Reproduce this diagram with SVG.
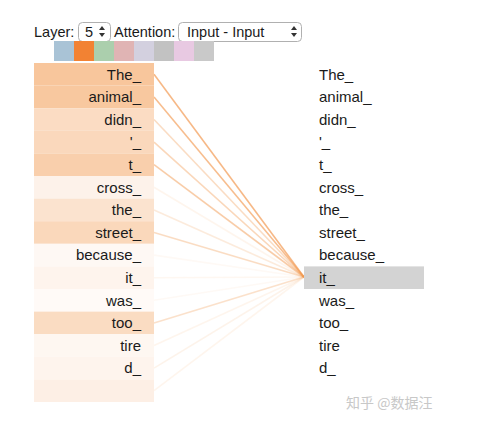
<svg xmlns="http://www.w3.org/2000/svg" width="486" height="426" viewBox="0 0 486 426">
<style>
text{font-family:"Liberation Sans",Arial,sans-serif;fill:#1a1a1a}
.hd{font-size:14.5px}
.tk{font-size:15px}
.l{text-anchor:end}
.sel{fill:#fff;stroke:#b0b0b0;stroke-width:1}
.arw{fill:#333}
.cn line{stroke:#f29a52;stroke-width:1.6}
</style>
<rect width="486" height="426" fill="#fff"/>
<g id="header">
<text class="hd" x="34" y="37">Layer:</text>
<rect class="sel" x="78.5" y="22.5" width="32" height="19" rx="4"/>
<text class="hd" x="85" y="37">5</text>
<path class="arw" d="M99,30 l3,-4 l3,4z M99,33 l3,4 l3,-4z"/>
<text class="hd" x="114" y="37">Attention:</text>
<rect class="sel" x="178.5" y="22.5" width="123" height="19" rx="4"/>
<text class="hd" x="187" y="37">Input - Input</text>
<path class="arw" d="M291,30 l3,-4 l3,4z M291,33 l3,4 l3,-4z"/>
</g>
<g id="swatches">
<rect x="54" y="41" width="20" height="20" fill="#a9c3d6"/>
<rect x="74" y="41" width="20" height="20" fill="#f28233"/>
<rect x="94" y="41" width="20" height="20" fill="#abcfad"/>
<rect x="114" y="41" width="20" height="20" fill="#e0b4b4"/>
<rect x="134" y="41" width="20" height="20" fill="#d3d0df"/>
<rect x="154" y="41" width="20" height="20" fill="#c2c2c2"/>
<rect x="174" y="41" width="20" height="20" fill="#e8c9e2"/>
<rect x="194" y="41" width="20" height="20" fill="#c9c9c9"/>
</g>
<g class="cn" id="connectors">
<line x1="154" y1="74.3" x2="304" y2="277" stroke-opacity="0.7"/>
<line x1="154" y1="96.9" x2="304" y2="277" stroke-opacity="0.65"/>
<line x1="154" y1="119.5" x2="304" y2="277" stroke-opacity="0.35"/>
<line x1="154" y1="142.1" x2="304" y2="277" stroke-opacity="0.4"/>
<line x1="154" y1="164.7" x2="304" y2="277" stroke-opacity="0.5"/>
<line x1="154" y1="187.3" x2="304" y2="277" stroke-opacity="0.1"/>
<line x1="154" y1="209.9" x2="304" y2="277" stroke-opacity="0.2"/>
<line x1="154" y1="232.5" x2="304" y2="277" stroke-opacity="0.35"/>
<line x1="154" y1="255.1" x2="304" y2="277" stroke-opacity="0.06"/>
<line x1="154" y1="277.7" x2="304" y2="277" stroke-opacity="0.08"/>
<line x1="154" y1="300.3" x2="304" y2="277" stroke-opacity="0.06"/>
<line x1="154" y1="322.9" x2="304" y2="277" stroke-opacity="0.3"/>
<line x1="154" y1="345.5" x2="304" y2="277" stroke-opacity="0.1"/>
<line x1="154" y1="368.1" x2="304" y2="277" stroke-opacity="0.12"/>
<line x1="154" y1="390.7" x2="304" y2="277" stroke-opacity="0.1"/>
</g>
<g id="left">
<g id="l0"><rect x="34" y="63" width="120" height="22.6" fill="#f8c69c"/><text class="tk l" x="141" y="79.5">The_</text></g>
<g id="l1"><rect x="34" y="85.6" width="120" height="22.6" fill="#f8c89f"/><text class="tk l" x="141" y="102.1">animal_</text></g>
<g id="l2"><rect x="34" y="108.2" width="120" height="22.6" fill="#fbdcc3"/><text class="tk l" x="141" y="124.7">didn_</text></g>
<g id="l3"><rect x="34" y="130.8" width="120" height="22.6" fill="#fad8bc"/><text class="tk l" x="141" y="147.3">'_</text></g>
<g id="l4"><rect x="34" y="153.4" width="120" height="22.6" fill="#f9cfac"/><text class="tk l" x="141" y="169.9">t_</text></g>
<g id="l5"><rect x="34" y="176" width="120" height="22.6" fill="#fdf2ea"/><text class="tk l" x="141" y="192.5">cross_</text></g>
<g id="l6"><rect x="34" y="198.6" width="120" height="22.6" fill="#fbe3cf"/><text class="tk l" x="141" y="215.1">the_</text></g>
<g id="l7"><rect x="34" y="221.2" width="120" height="22.6" fill="#fad8bb"/><text class="tk l" x="141" y="237.7">street_</text></g>
<g id="l8"><rect x="34" y="243.8" width="120" height="22.6" fill="#fef8f4"/><text class="tk l" x="141" y="260.3">because_</text></g>
<g id="l9"><rect x="34" y="266.4" width="120" height="22.6" fill="#fef4ed"/><text class="tk l" x="141" y="282.9">it_</text></g>
<g id="l10"><rect x="34" y="289" width="120" height="22.6" fill="#fffaf7"/><text class="tk l" x="141" y="305.5">was_</text></g>
<g id="l11"><rect x="34" y="311.6" width="120" height="22.6" fill="#fadcc2"/><text class="tk l" x="141" y="328.1">too_</text></g>
<g id="l12"><rect x="34" y="334.2" width="120" height="22.6" fill="#fef7f1"/><text class="tk l" x="141" y="350.7">tire</text></g>
<g id="l13"><rect x="34" y="356.8" width="120" height="22.6" fill="#fef4ed"/><text class="tk l" x="141" y="373.3">d_</text></g>
<g id="l14"><rect x="34" y="379.4" width="120" height="22.6" fill="#fdefe5"/></g>
</g>
<g id="right">
<g id="r0"><text class="tk" x="319" y="79.5">The_</text></g>
<g id="r1"><text class="tk" x="319" y="102.1">animal_</text></g>
<g id="r2"><text class="tk" x="319" y="124.7">didn_</text></g>
<g id="r3"><text class="tk" x="319" y="147.3">'_</text></g>
<g id="r4"><text class="tk" x="319" y="169.9">t_</text></g>
<g id="r5"><text class="tk" x="319" y="192.5">cross_</text></g>
<g id="r6"><text class="tk" x="319" y="215.1">the_</text></g>
<g id="r7"><text class="tk" x="319" y="237.7">street_</text></g>
<g id="r8"><text class="tk" x="319" y="260.3">because_</text></g>
<g id="r9"><rect x="304" y="266.4" width="120" height="22.6" fill="#d3d3d3"/><text class="tk" x="319" y="282.9">it_</text></g>
<g id="r10"><text class="tk" x="319" y="305.5">was_</text></g>
<g id="r11"><text class="tk" x="319" y="328.1">too_</text></g>
<g id="r12"><text class="tk" x="319" y="350.7">tire</text></g>
<g id="r13"><text class="tk" x="319" y="373.3">d_</text></g>
</g>
<text x="346" y="408" style="font-family:'Noto Sans CJK SC','Liberation Sans',sans-serif;font-size:14px;fill:#c8c8c8">知乎 @数据汪</text>
</svg>
